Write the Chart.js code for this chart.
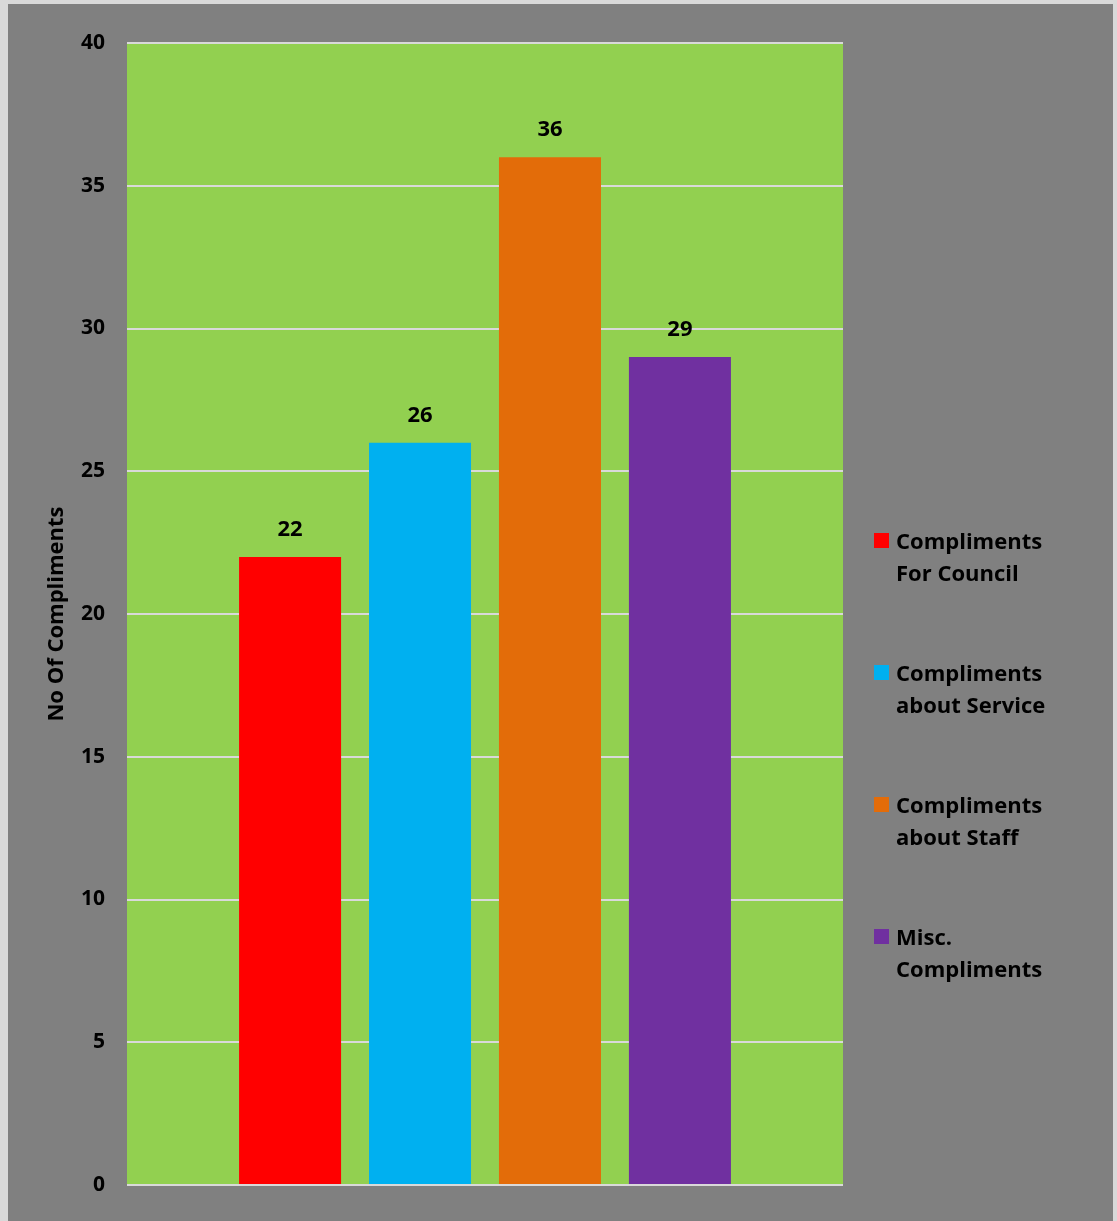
<!DOCTYPE html>
<html>
<head>
<meta charset="utf-8">
<script src="https://cdn.jsdelivr.net/npm/chart.js@4"></script>
<style>
  html, body { margin: 0; padding: 0; }
  body { width: 1117px; height: 1221px; background: #d9d9d9; position: relative; overflow: hidden; }
  #wrap { position: absolute; left: 8px; top: 4px; width: 1105px; height: 1217px; background: #808080; }
  #legend { position: absolute; left: 874px; top: 524px; font: bold 22px "Open Sans", sans-serif; color: #000; }
  .item { position: relative; padding-left: 22px; line-height: 32px; height: 132px; white-space: nowrap; }
  .item span.box { position: absolute; left: 0; top: 9px; width: 15px; height: 15px; }
</style>
</head>
<body>
<div id="wrap"><canvas id="chart" width="1105" height="1217"></canvas></div>
<div id="legend"></div>
<script>
// chart data
const seriesNames = [["Compliments", "For Council"], ["Compliments", "about Service"], ["Compliments", "about Staff"], ["Misc.", "Compliments"]];
const seriesValues = [22, 26, 36, 29];
const seriesColors = ["#ff0000", "#00b0f0", "#e36c09", "#7030a0"];
const yTicks = [0, 5, 10, 15, 20, 25, 30, 35, 40];

const FONT = '"Open Sans", sans-serif';

// green plot background
const plotBg = {
    id: "plotBg",
    beforeDraw(chart) {
        const a = chart.chartArea;
        const ctx = chart.ctx;
        ctx.save();
        ctx.fillStyle = "#92d050";
        ctx.fillRect(a.left, a.top, a.right - a.left, a.bottom - a.top);
        ctx.restore();
    }
};

// value labels above bars
const valueLabels = {
    id: "valueLabels",
    afterDatasetsDraw(chart) {
        const ctx = chart.ctx;
        ctx.save();
        ctx.font = "bold 22px " + FONT;
        ctx.fillStyle = "#000";
        ctx.textAlign = "center";
        ctx.textBaseline = "middle";
        chart.data.datasets.forEach((ds, i) => {
            const bar = chart.getDatasetMeta(i).data[0];
            ctx.fillText(String(ds.data[0]), bar.x, bar.y - 27);
        });
        ctx.restore();
    }
};

const ctx = document.getElementById("chart").getContext("2d");
new Chart(ctx, {
    type: "bar",
    data: {
        labels: [""],
        datasets: seriesValues.map((v, i) => ({
            label: seriesNames[i].join(" "),
            data: [v],
            backgroundColor: seriesColors[i],
            borderWidth: 0,
            categoryPercentage: 0.726,
            barPercentage: 0.785
        }))
    },
    options: {
        responsive: false,
        animation: false,
        layout: { padding: { top: 39, right: 270, bottom: 36, left: 0 } },
        plugins: { legend: { display: false }, tooltip: { enabled: false } },
        scales: {
            x: { display: false },
            y: {
                min: 0,
                max: 40,
                afterBuildTicks(scale) { scale.ticks = yTicks.map(v => ({ value: v })); },
                afterFit(scale) { scale.width = 119; },
                border: { display: false },
                grid: { color: "#d9d9d9", lineWidth: 2, drawTicks: false },
                ticks: { color: "#000", font: { family: FONT, size: 21, weight: "bold" }, padding: 22 },
                title: {
                    display: true,
                    text: "No Of Compliments",
                    color: "#000",
                    font: { family: FONT, size: 22, weight: "bold" },
                    padding: { top: 36, bottom: 0 }
                }
            }
        }
    },
    plugins: [plotBg, valueLabels]
});

// legend
const legend = document.getElementById("legend");
seriesNames.forEach((name, i) => {
    const div = document.createElement("div");
    div.className = "item";
    div.innerHTML = '<span class="box" style="background:' + seriesColors[i] + '"></span>' + name.join("<br>");
    legend.appendChild(div);
});
</script>
</body>
</html>
